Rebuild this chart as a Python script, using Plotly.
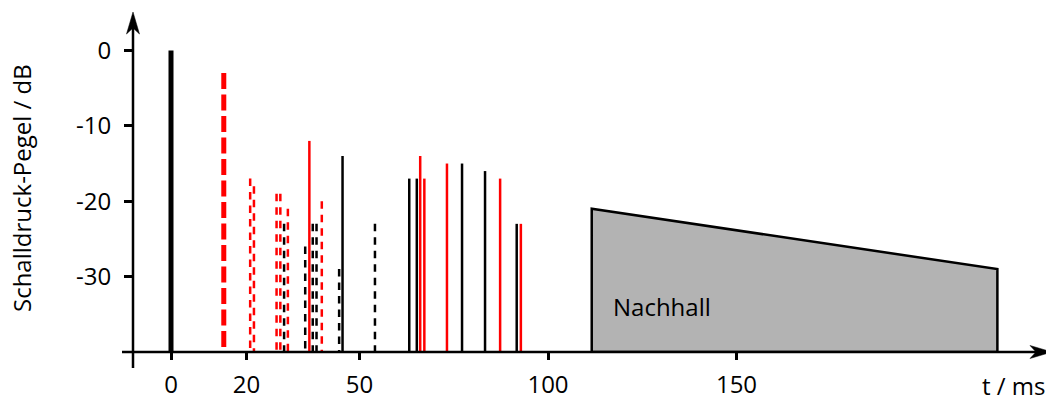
import plotly.graph_objects as go

# ---------------- data (t in ms, level in dB) ----------------
direct_t = [0]
direct_L = [0]
first_t = [14]
first_L = [-3]
red_dash_t = [21, 22, 28, 29, 31, 40]
red_dash_L = [-17, -18, -19, -19, -21, -20]
black_dash_t = [30, 35.6, 37.6, 38.6, 44.6, 54.1]
black_dash_L = [-23, -26, -23, -23, -29, -23]
red_solid_t = [36.7, 66.1, 67.2, 73.2, 87.3, 92.8]
red_solid_L = [-12, -14, -17, -15, -17, -23]
black_solid_t = [45.5, 63.2, 65.2, 77.2, 83.3, 91.7]
black_solid_L = [-14, -17, -17, -15, -16, -23]
reverb_t = [111.6, 219.2]
reverb_L = [-21, -29]
floor_L = -40
x_ticks = [0, 20, 50, 100, 150]
x_tick_labels = ["0", "20", "50", "100", "150"]
y_ticks = [0, -10, -20, -30]
y_tick_labels = ["0", "-10", "-20", "-30"]

# ---------------- layout geometry (screen pixels) ----------------
OFF = 8                      # page body margin
FW, FH = 1054 - OFF, 396 - OFF
L, R, T, B = 133, 1052, 12, 352   # plot area in screen px
W, H = R - L, B - T
PX_PER_MS = 3.77
X0_PX = 171
PX_PER_DB = 7.55
Y0_PX = 50.5
x_range = [(L - X0_PX) / PX_PER_MS, (R - X0_PX) / PX_PER_MS]
y_range = [floor_L, (Y0_PX - T) / PX_PER_DB]

FONT = "Open Sans"
FS = 24


def px2paper(x, y):
    return (x - L) / W, (B - y) / H


def stems(ts, ls):
    xs, ys = [], []
    for t, l in zip(ts, ls):
        xs += [t, t, None]
        ys += [l, floor_L, None]
    return xs, ys


fig = go.Figure()

# reverberation tail polygon
fig.add_trace(go.Scatter(
    x=[reverb_t[0], reverb_t[0], reverb_t[1], reverb_t[1], reverb_t[0]],
    y=[floor_L, reverb_L[0], reverb_L[1], floor_L, floor_L],
    mode="lines", fill="toself", fillcolor="#b3b3b3",
    line=dict(color="black", width=2.5), hoverinfo="skip"))

groups = [
    (direct_t, direct_L, "black", 5, "solid"),
    (first_t, first_L, "#ff0000", 5, "16px,5.5px"),
    (red_dash_t, red_dash_L, "#ff0000", 2.5, "7.5px,6px"),
    (black_dash_t, black_dash_L, "black", 2.5, "7.5px,6px"),
    (red_solid_t, red_solid_L, "#ff0000", 2.5, "solid"),
    (black_solid_t, black_solid_L, "black", 2.5, "solid"),
]
for ts, ls, col, w, dash in groups:
    xs, ys = stems(ts, ls)
    fig.add_trace(go.Scatter(x=xs, y=ys, mode="lines",
                             line=dict(color=col, width=w, dash=dash),
                             hoverinfo="skip"))

# axes lines + arrowheads (paper coordinates)
shapes = []
ax_w = 2.5
x_a, y_a = px2paper(L, 368)
x_b, y_b = px2paper(L, T + 14)
shapes.append(dict(type="line", xref="paper", yref="paper", x0=x_a, y0=y_a,
                   x1=x_b, y1=y_b, line=dict(color="black", width=ax_w)))
x_a, y_a = px2paper(122, B)
x_b, y_b = px2paper(R - 14, B)
shapes.append(dict(type="line", xref="paper", yref="paper", x0=x_a, y0=y_a,
                   x1=x_b, y1=y_b, line=dict(color="black", width=ax_w)))


def path(points):
    s = ""
    for i, (px, py) in enumerate(points):
        u, v = px2paper(px, py)
        s += ("M" if i == 0 else "L") + f"{u:.5f},{v:.5f} "
    return s + "Z"


shapes.append(dict(type="path", xref="paper", yref="paper",
                   path=path([(L, T), (L + 6.5, T + 22), (L, T + 16), (L - 6.5, T + 22)]),
                   fillcolor="black", line=dict(color="black", width=0.5)))
shapes.append(dict(type="path", xref="paper", yref="paper",
                   path=path([(R, B), (R - 22, B - 6.5), (R - 16, B), (R - 22, B + 6.5)]),
                   fillcolor="black", line=dict(color="black", width=0.5)))

annotations = [
    dict(text="Nachhall", x=(662 - X0_PX) / PX_PER_MS, y=(Y0_PX - 306.7) / PX_PER_DB,
         xref="x", yref="y", showarrow=False, xanchor="center", yanchor="middle",
         font=dict(family=FONT, size=FS, color="black")),
    dict(text="t / ms", x=(1047 - L) / W, y=(B - 385) / H, xref="paper", yref="paper",
         showarrow=False, xanchor="right", yanchor="middle",
         font=dict(family=FONT, size=FS, color="black")),
    dict(text="Schalldruck-Pegel / dB", x=(22 - L) / W, y=(B - 188) / H,
         xref="paper", yref="paper", showarrow=False, textangle=-90,
         xanchor="center", yanchor="middle",
         font=dict(family=FONT, size=FS, color="black")),
]

fig.update_layout(
    width=FW, height=FH,
    margin=dict(l=L - OFF, r=FW - (R - OFF), t=T - OFF, b=FH - (B - OFF), pad=0),
    paper_bgcolor="white", plot_bgcolor="white",
    showlegend=False,
    shapes=shapes, annotations=annotations,
    font=dict(family=FONT, size=FS, color="black"),
)
fig.update_xaxes(range=x_range, showgrid=False, zeroline=False, showline=False,
                 tickvals=x_ticks, ticktext=x_tick_labels,
                 ticks="outside", ticklen=7, tickwidth=2.5,
                 tickcolor="black", ticklabelstandoff=4,
                 tickfont=dict(family=FONT, size=FS, color="black"),
                 automargin=False, fixedrange=True)
fig.update_yaxes(range=y_range, showgrid=False, zeroline=False, showline=False,
                 tickvals=y_ticks, ticktext=y_tick_labels,
                 ticks="outside", ticklen=8, tickwidth=2.5,
                 tickcolor="black", ticklabelstandoff=8,
                 tickfont=dict(family=FONT, size=FS, color="black"),
                 automargin=False, fixedrange=True)

fig.write_html("out.html", config={"displayModeBar": False})
